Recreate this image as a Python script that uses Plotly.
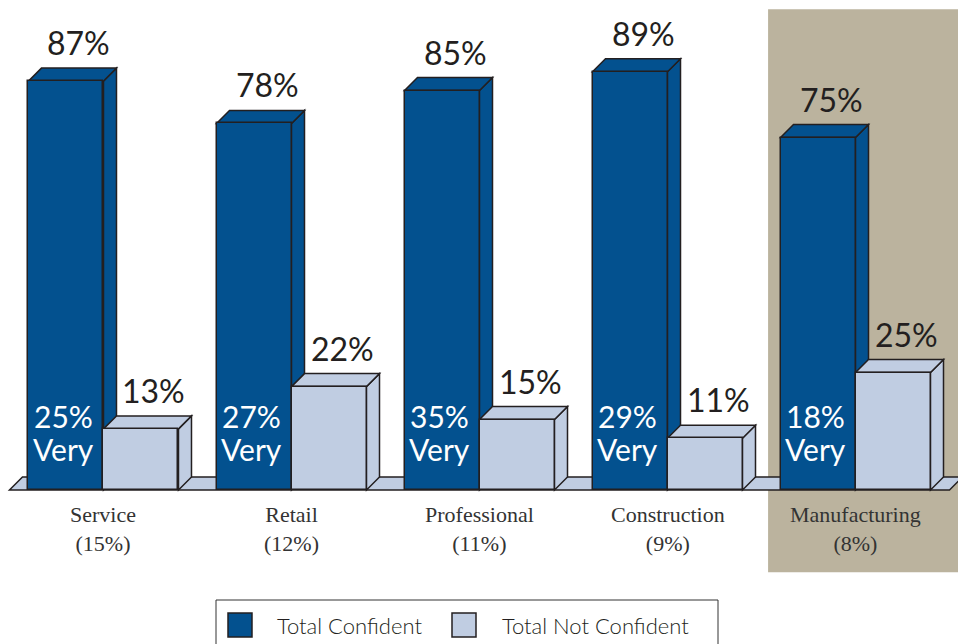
import plotly.graph_objects as go

# Survey results by industry
industries = ["Service", "Retail", "Professional", "Construction", "Manufacturing"]
industry_share = ["15%", "12%", "11%", "9%", "8%"]
total_confident = [87, 78, 85, 89, 75]
total_not_confident = [13, 22, 15, 11, 25]
very_confident = [25, 27, 35, 29, 18]
highlight_index = 4  # Manufacturing is shaded

DARK = "#03518F"
LIGHT = "#C0CDE2"
EDGE = "#231F20"
TAN = "#BBB39E"
W, H = 958, 644

# Axis geometry: one unit on x per industry group, y in percent
x_range = [-0.5505, 4.5452]
y_range = [-32.77, 104.26]
px_x = W / (x_range[1] - x_range[0])
px_y = H / (y_range[1] - y_range[0])
depth_px = 13
dx = depth_px / px_x
dy = depth_px / px_y
bar_w = 75 / px_x
half = bar_w / 2

pos = list(range(len(industries)))
x_dark = [p - half for p in pos]
x_light = [p + half for p in pos]

fig = go.Figure()
shapes = []

# shaded column behind the highlighted industry
shapes.append(dict(type="rect", xref="x", yref="y", layer="below",
                   x0=highlight_index - 0.465, x1=highlight_index + 0.56,
                   y0=-17.5, y1=102.3, fillcolor=TAN, line=dict(width=0)))

# floor slab
fx0, fx1 = -0.5, 4.5
shapes.append(dict(type="path", xref="x", yref="y", layer="below",
                   path=f"M{fx0},0 L{fx1},0 L{fx1+dx},{dy} L{fx0+dx},{dy} Z",
                   fillcolor=LIGHT, line=dict(color=EDGE, width=1.5)))


def box_faces(xc, v, color):
    xl, xr = xc - half, xc + half
    side = f"M{xr},0 L{xr+dx},{dy} L{xr+dx},{v+dy} L{xr},{v} Z"
    top = f"M{xl},{v} L{xl+dx},{v+dy} L{xr+dx},{v+dy} L{xr},{v} Z"
    return [dict(type="path", xref="x", yref="y", layer="below", path=p,
                 fillcolor=color, line=dict(color=EDGE, width=1.5))
            for p in (side, top)]


for xc, v in zip(x_dark, total_confident):
    shapes += box_faces(xc, v, DARK)
for xc, v in zip(x_light, total_not_confident):
    shapes += box_faces(xc, v, LIGHT)

fig.add_trace(go.Bar(x=x_dark, y=total_confident, width=bar_w, name="Total Confident",
                     marker=dict(color=DARK, line=dict(color=EDGE, width=1.5)),
                     showlegend=False, hoverinfo="skip"))
fig.add_trace(go.Bar(x=x_light, y=total_not_confident, width=bar_w, name="Total Not Confident",
                     marker=dict(color=LIGHT, line=dict(color=EDGE, width=1.5)),
                     showlegend=False, hoverinfo="skip"))

annotations = []
VAL_FONT = dict(family="Lato", size=32, color=EDGE)
for xs, vals in ((x_dark, total_confident), (x_light, total_not_confident)):
    for xc, v in zip(xs, vals):
        annotations.append(dict(x=xc + dx, y=v + dy, xref="x", yref="y", text=f"{v}%",
                                showarrow=False, yanchor="bottom", yshift=4, font=VAL_FONT))

IN_FONT = dict(family="Lato", size=30, color="white")
for xc, v in zip(x_dark, very_confident):
    annotations.append(dict(x=xc - 0.012, y=0, xref="x", yref="y", text=f"{v}%",
                            showarrow=False, yanchor="bottom", yshift=54, font=IN_FONT))
    annotations.append(dict(x=xc - 0.012, y=0, xref="x", yref="y", text="Very",
                            showarrow=False, yanchor="bottom", yshift=21, font=IN_FONT))

CAT_FONT = dict(family="Liberation Serif", size=22, color="#333333")
for p, name, share in zip(pos, industries, industry_share):
    annotations.append(dict(x=p, y=0, xref="x", yref="y", text=f"{name}<br>({share})",
                            showarrow=False, yanchor="top", yshift=-10, font=CAT_FONT))

# legend box
shapes.append(dict(type="rect", xref="paper", yref="paper",
                   x0=216 / W, x1=718 / W, y0=-10 / H, y1=(H - 600) / H,
                   fillcolor="white", line=dict(color="#333333", width=1)))
LEG_FONT = dict(family="Lato", size=22, color=EDGE, weight=300)
for x0, color, label, tx in ((228, DARK, "Total Confident", 275),
                             (452, LIGHT, "Total Not Confident", 500)):
    shapes.append(dict(type="rect", xref="paper", yref="paper",
                       x0=x0 / W, x1=(x0 + 24) / W, y0=(H - 637) / H, y1=(H - 613) / H,
                       fillcolor=color, line=dict(color=EDGE, width=1.5)))
    annotations.append(dict(x=tx / W, y=(H - 625) / H, xref="paper", yref="paper",
                            text=label, showarrow=False, xanchor="left", yanchor="middle",
                            font=LEG_FONT))

fig.update_layout(
    width=W, height=H, margin=dict(l=0, r=0, t=0, b=0),
    paper_bgcolor="white", plot_bgcolor="rgba(0,0,0,0)",
    barmode="overlay", bargap=0,
    xaxis=dict(range=x_range, visible=False, fixedrange=True),
    yaxis=dict(range=y_range, visible=False, fixedrange=True),
    shapes=shapes, annotations=annotations,
)

fig.write_html("out.html", config=dict(displayModeBar=False))
